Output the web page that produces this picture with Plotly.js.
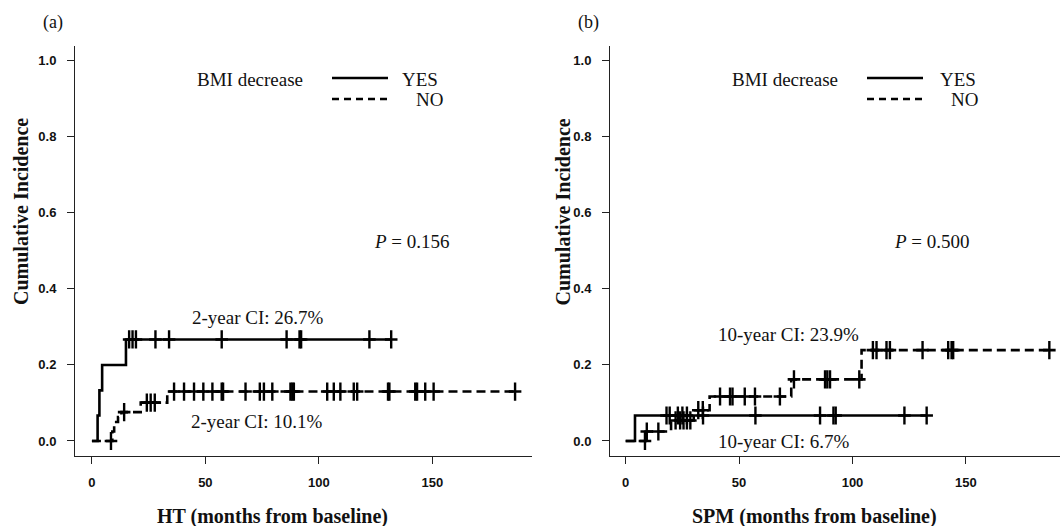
<!DOCTYPE html>
<html>
<head>
<meta charset="utf-8">
<script src="https://cdn.plot.ly/plotly-3.0.1.min.js"></script>
<style>html,body{margin:0;padding:0;background:#fff;}#chart{width:1060px;height:526px;}</style>
</head>
<body>
<div id="chart"></div>
<script>
// ---- Data ----
// Panel (a): HT
const htYesEventT  = [0, 2.5, 3.3, 4.5, 15];
const htYesEventCI = [0, 0.067, 0.133, 0.200, 0.267];
const htYesCensT   = [16.4, 17.9, 19.4, 28, 34, 57.2, 85.8, 91.5, 92.2, 122.3, 131.9];

const htNoEventT   = [0, 9, 9.8, 11.5, 13, 21.5, 33.2];
const htNoEventCI  = [0, 0.025, 0.050, 0.063, 0.076, 0.101, 0.130];
const htNoCensT    = [8.4, 14.2, 24.2, 25.9, 27.7, 36.2, 40.6, 45.0, 49.1, 53.1, 57.2, 57.8, 67.7, 74.0, 75.8,
                      79.5, 87.5, 88.3, 89.0, 103.7, 106.6, 109.5, 115.4, 116.9, 130.5, 131.1, 142.5, 143.3,
                      146.9, 150.6, 186.5];

// Panel (b): SPM
const spmYesEventT  = [0, 4.1];
const spmYesEventCI = [0, 0.067];
const spmYesCensT   = [18.0, 19.4, 23, 25, 27, 34.1, 57.2, 85.7, 91.6, 92.6, 122.9, 132.7];

const spmNoEventT   = [0, 8.8, 20, 30, 37, 73, 104];
const spmNoEventCI  = [0, 0.025, 0.054, 0.081, 0.117, 0.162, 0.239];
const spmNoCensT    = [8.5, 9.3, 14.4, 22, 24, 25.5, 27, 28.5, 32, 34, 41.6, 46, 47.1, 52.5, 57, 68, 74.2,
                       87.9, 88.9, 90.1, 103, 109, 110.6, 115, 116.5, 130.9, 142.2, 143.7, 144.4, 186.8];

const xTicks = [0, 50, 100, 150];
const yTicks = [0, 0.2, 0.4, 0.6, 0.8, 1.0];

const panelLabels = ['(a)', '(b)'];
const xTitles = ['HT (months from baseline)', 'SPM (months from baseline)'];
const yTitle = 'Cumulative Incidence';
const pValues = ['0.156', '0.500'];
const ciTexts = [['2-year CI: 26.7%', '2-year CI: 10.1%'], ['10-year CI: 23.9%', '10-year CI: 6.7%']];

// ---- helpers ----
function stepVal(tArr, vArr, t) {
  let v = vArr[0];
  for (let i = 0; i < tArr.length; i++) if (tArr[i] <= t) v = vArr[i];
  return v;
}
function curveTraces(evT, evCI, censT, dash, xa, ya) {
  const tEnd = Math.max(...censT, ...evT);
  const lx = evT.concat([tEnd]);
  const ly = evCI.concat([evCI[evCI.length - 1]]);
  const cy = censT.map(t => stepVal(evT, evCI, t));
  return [
    {x: lx, y: ly, type: 'scatter', mode: 'lines', xaxis: xa, yaxis: ya,
     line: {shape: 'hv', color: '#000', width: 2.6, dash: dash}, hoverinfo: 'skip'},
    {x: censT, y: cy, type: 'scatter', mode: 'markers', xaxis: xa, yaxis: ya,
     marker: {symbol: 'line-ns', size: 13, color: '#000', line: {color: '#000', width: 2.4}}, hoverinfo: 'skip'},
    {x: censT, y: cy, type: 'scatter', mode: 'markers', xaxis: xa, yaxis: ya,
     marker: {symbol: 'line-ew', size: 9, color: '#000', line: {color: '#000', width: 2.6}}, hoverinfo: 'skip'}
  ];
}

const dashPlot = '9px,5px';
const data = [].concat(
  curveTraces(htYesEventT, htYesEventCI, htYesCensT, 'solid', 'x', 'y'),
  curveTraces(htNoEventT, htNoEventCI, htNoCensT, dashPlot, 'x', 'y'),
  curveTraces(spmYesEventT, spmYesEventCI, spmYesCensT, 'solid', 'x2', 'y2'),
  curveTraces(spmNoEventT, spmNoEventCI, spmNoCensT, dashPlot, 'x2', 'y2')
);

const W = 1060, H = 526;
const px = x => x / W;
const py = y => 1 - y / H;

const tickFont = {family: 'Liberation Sans, Arial, sans-serif', size: 13, color: '#111', weight: 'bold'};
const axCommon = {
  showline: true, linecolor: '#222', linewidth: 1, mirror: false,
  ticks: 'outside', ticklen: 7, tickwidth: 1, tickcolor: '#222',
  showgrid: false, zeroline: false, tickfont: tickFont, fixedrange: true
};
const yDom = [py(456.2), py(45.5)];

const layout = {
  width: W, height: H, margin: {l: 0, r: 0, t: 0, b: 0},
  paper_bgcolor: '#fff', plot_bgcolor: '#fff', showlegend: false,
  xaxis: Object.assign({}, axCommon, {domain: [px(75), px(532)], range: [-7.46, 193.96], tickvals: xTicks, anchor: 'y', ticklabelstandoff: 7}),
  yaxis: Object.assign({}, axCommon, {domain: yDom, range: [-0.04, 1.04], tickvals: yTicks, tickformat: '.1f', anchor: 'x', ticklabelstandoff: 8}),
  xaxis2: Object.assign({}, axCommon, {domain: [px(610), 1], range: [-6.92, 191.5], tickvals: xTicks, anchor: 'y2', ticklabelstandoff: 7}),
  yaxis2: Object.assign({}, axCommon, {domain: yDom, range: [-0.04, 1.04], tickvals: yTicks, tickformat: '.1f', anchor: 'x2', ticklabelstandoff: 8}),
  annotations: [],
  shapes: []
};

const serif = 'Liberation Serif, Times New Roman, serif';
function ann(text, x, y, xanchor, opts) {
  layout.annotations.push(Object.assign({
    text: text, x: px(x), y: py(y), xref: 'paper', yref: 'paper', xanchor: xanchor, yanchor: 'middle',
    showarrow: false, font: {family: serif, size: 19, color: '#111'}
  }, opts || {}));
}

// panel offsets (a) and (b)
const P = [
  {lab: [53, 22], yt: [21, 212], xt: [272.5, 516], bmi: 195, line: [332, 388], yes: 400, noR: 445, p: 372,
   ci: [[190, 317], [189, 421]]},
  {lab: [588.5, 22], yt: [562.5, 212], xt: [814, 516], bmi: 730, line: [867, 923], yes: 938, noR: 980, p: 892,
   ci: [[716, 334], [716, 441]]}
];
P.forEach((p, i) => {
  ann(panelLabels[i], p.lab[0], p.lab[1], 'center', {font: {family: serif, size: 18, color: '#111'}});
  ann(yTitle, p.yt[0], p.yt[1], 'center', {textangle: -90, font: {family: serif, size: 20, color: '#111', weight: 'bold'}});
  ann(xTitles[i], p.xt[0], p.xt[1], 'center', {font: {family: serif, size: 20, color: '#111', weight: 'bold'}});
  ann('BMI decrease', p.bmi, 79, 'left');
  ann('YES', p.yes, 79, 'left');
  ann('NO', p.noR, 100, 'right');
  ann('<i>P</i> = ' + pValues[i], p.p, 241, 'left');
  ann(ciTexts[i][0], p.ci[0][0], p.ci[0][1], 'left');
  ann(ciTexts[i][1], p.ci[1][0], p.ci[1][1], 'left');
  layout.shapes.push({type: 'line', xref: 'paper', yref: 'paper', x0: px(p.line[0]), x1: px(p.line[1]), y0: py(78), y1: py(78),
                      line: {color: '#000', width: 2.6}});
  layout.shapes.push({type: 'line', xref: 'paper', yref: 'paper', x0: px(p.line[0]), x1: px(p.line[1] - 1), y0: py(99), y1: py(99),
                      line: {color: '#000', width: 2.6, dash: '7px,5px'}});
});

Plotly.newPlot('chart', data, layout, {displayModeBar: false, staticPlot: true});
</script>
</body>
</html>
